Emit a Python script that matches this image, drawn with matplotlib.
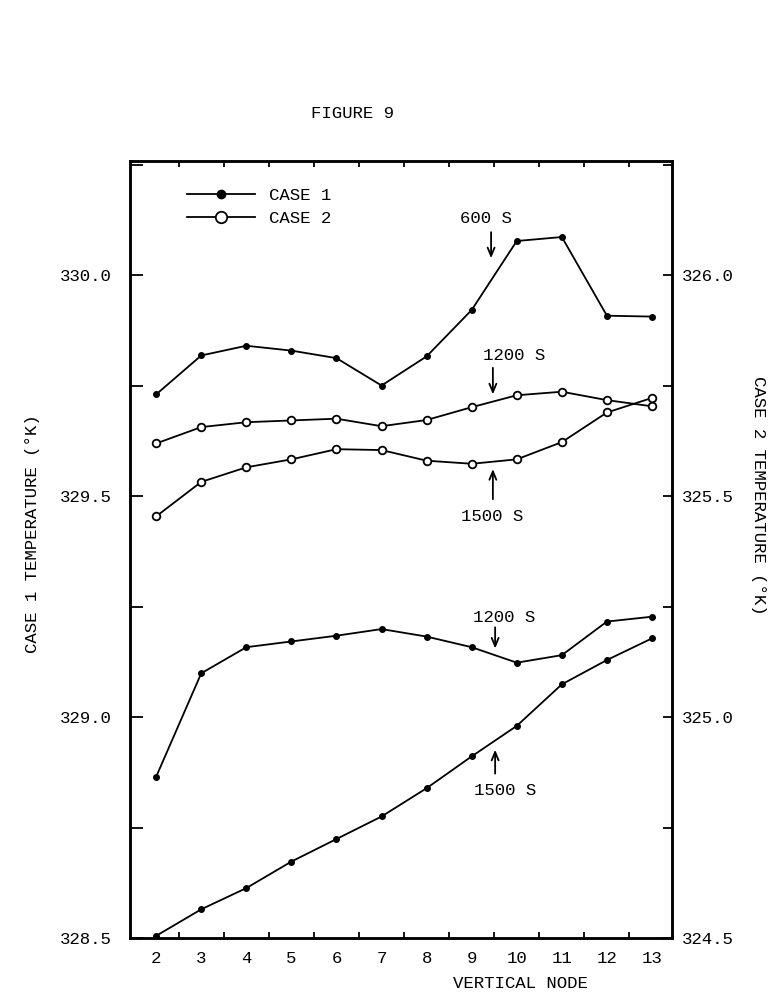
import matplotlib
matplotlib.use("Agg")
import matplotlib.pyplot as plt
from matplotlib.ticker import MultipleLocator, FixedLocator, FixedFormatter

plt.rcParams["font.family"] = ["Liberation Mono", "DejaVu Sans Mono"]

# vertical node numbers
nodes = [2, 3, 4, 5, 6, 7, 8, 9, 10, 11, 12, 13]

# case 1 temperatures (K), left axis
case1_600 = [329.730, 329.818, 329.840, 329.829, 329.812, 329.750,
             329.816, 329.921, 330.077, 330.086, 329.908, 329.906]
case1_1200 = [328.865, 329.099, 329.158, 329.171, 329.184, 329.199,
              329.182, 329.158, 329.123, 329.140, 329.216, 329.227]
case1_1500 = [328.505, 328.565, 328.613, 328.673, 328.724, 328.775,
              328.839, 328.911, 328.980, 329.074, 329.129, 329.178]

# case 2 temperatures (K), right axis
case2_1200 = [325.619, 325.656, 325.667, 325.671, 325.675, 325.658,
              325.672, 325.701, 325.728, 325.736, 325.717, 325.703]
case2_1500 = [325.454, 325.532, 325.565, 325.583, 325.606, 325.604,
              325.580, 325.573, 325.583, 325.622, 325.689, 325.722]

# time labels: (text, text x, text y, arrow x, arrow tail y, arrow head y), left-axis units
time_labels = [
    ("600 S", 9.31, 330.128, 9.43, 330.097, 330.038),
    ("1200 S", 9.95, 329.818, 9.47, 329.790, 329.730),
    ("1500 S", 9.46, 329.453, 9.47, 329.493, 329.561),
    ("1200 S", 9.73, 329.225, 9.52, 329.203, 329.155),
    ("1500 S", 9.74, 328.833, 9.52, 328.872, 328.926),
]

fs = 12.5
lw = 1.3

fig = plt.figure(figsize=(7.74, 9.92), dpi=100)
ax = fig.add_axes([0.168, 0.0544, 0.700, 0.7833])
ax2 = ax.twinx()

filled = dict(color="black", lw=lw, marker="o", ms=4, mfc="black", mec="black")
hollow = dict(color="black", lw=lw, marker="o", ms=5.5, mfc="white", mec="black", mew=1.3)

h1, = ax.plot(nodes, case1_600, **filled)
ax.plot(nodes, case1_1200, **filled)
ax.plot(nodes, case1_1500, **filled)
h2, = ax2.plot(nodes, case2_1200, **hollow)
ax2.plot(nodes, case2_1500, **hollow)

ax.set_xlim(1.42, 13.44)
ax.set_ylim(328.5, 330.258)
ax2.set_ylim(324.5, 326.258)

# x axis: labels on integers, ticks on half nodes
ax.xaxis.set_major_locator(FixedLocator(nodes))
ax.xaxis.set_major_formatter(FixedFormatter([str(n) for n in nodes]))
ax.xaxis.set_minor_locator(FixedLocator([n + 0.5 for n in nodes[:-1]]))
ax.tick_params(axis="x", which="major", length=0, pad=9, labelsize=fs)
ax.tick_params(axis="x", which="minor", direction="in", length=4.5, width=1.3,
               top=True, bottom=True)

ax.yaxis.set_major_locator(MultipleLocator(0.5))
ax.yaxis.set_minor_locator(MultipleLocator(0.25))
ax.yaxis.set_major_formatter(plt.FormatStrFormatter("%.1f"))
ax.tick_params(axis="y", which="both", direction="in", length=9.5, width=1.3,
               labelsize=fs, pad=13)

ax2.yaxis.set_major_locator(MultipleLocator(0.5))
ax2.yaxis.set_minor_locator(MultipleLocator(0.25))
ax2.yaxis.set_major_formatter(plt.FormatStrFormatter("%.1f"))
ax2.tick_params(axis="y", which="both", direction="in", length=6.5, width=1.3,
                labelsize=fs, pad=7)

for a in (ax, ax2):
    for s in a.spines.values():
        s.set_linewidth(1.8)

ax.set_xlabel("VERTICAL NODE", fontsize=fs, va="center")
ax.xaxis.set_label_coords(0.72, -0.058)
ax.set_ylabel("CASE 1 TEMPERATURE (°K)", fontsize=fs, va="center")
ax.yaxis.set_label_coords(-0.18, 0.52)
ax2.set_ylabel("CASE 2 TEMPERATURE (°K)", fontsize=fs, rotation=270, va="center")
ax2.yaxis.set_label_coords(1.16, 0.57)

fig.text(0.455, 0.886, "FIGURE 9", fontsize=fs, ha="center", va="center")

for txt, tx, ty, axx, y0, y1 in time_labels:
    ax.text(tx, ty, txt, fontsize=fs, ha="center", va="center")
    ax.annotate("", xy=(axx, y1), xytext=(axx, y0),
                arrowprops=dict(arrowstyle="->,head_length=0.6,head_width=0.25",
                                lw=1.3, color="black", shrinkA=0, shrinkB=0))

leg = ax.legend([h1, h2], ["CASE 1", "CASE 2"], loc="upper left",
                bbox_to_anchor=(0.105, 0.965), frameon=False, fontsize=fs,
                handlelength=3.9, handletextpad=0.8, labelspacing=0.45,
                borderpad=0, borderaxespad=0, markerscale=1.5)

fig.savefig("out.png", dpi=100)
